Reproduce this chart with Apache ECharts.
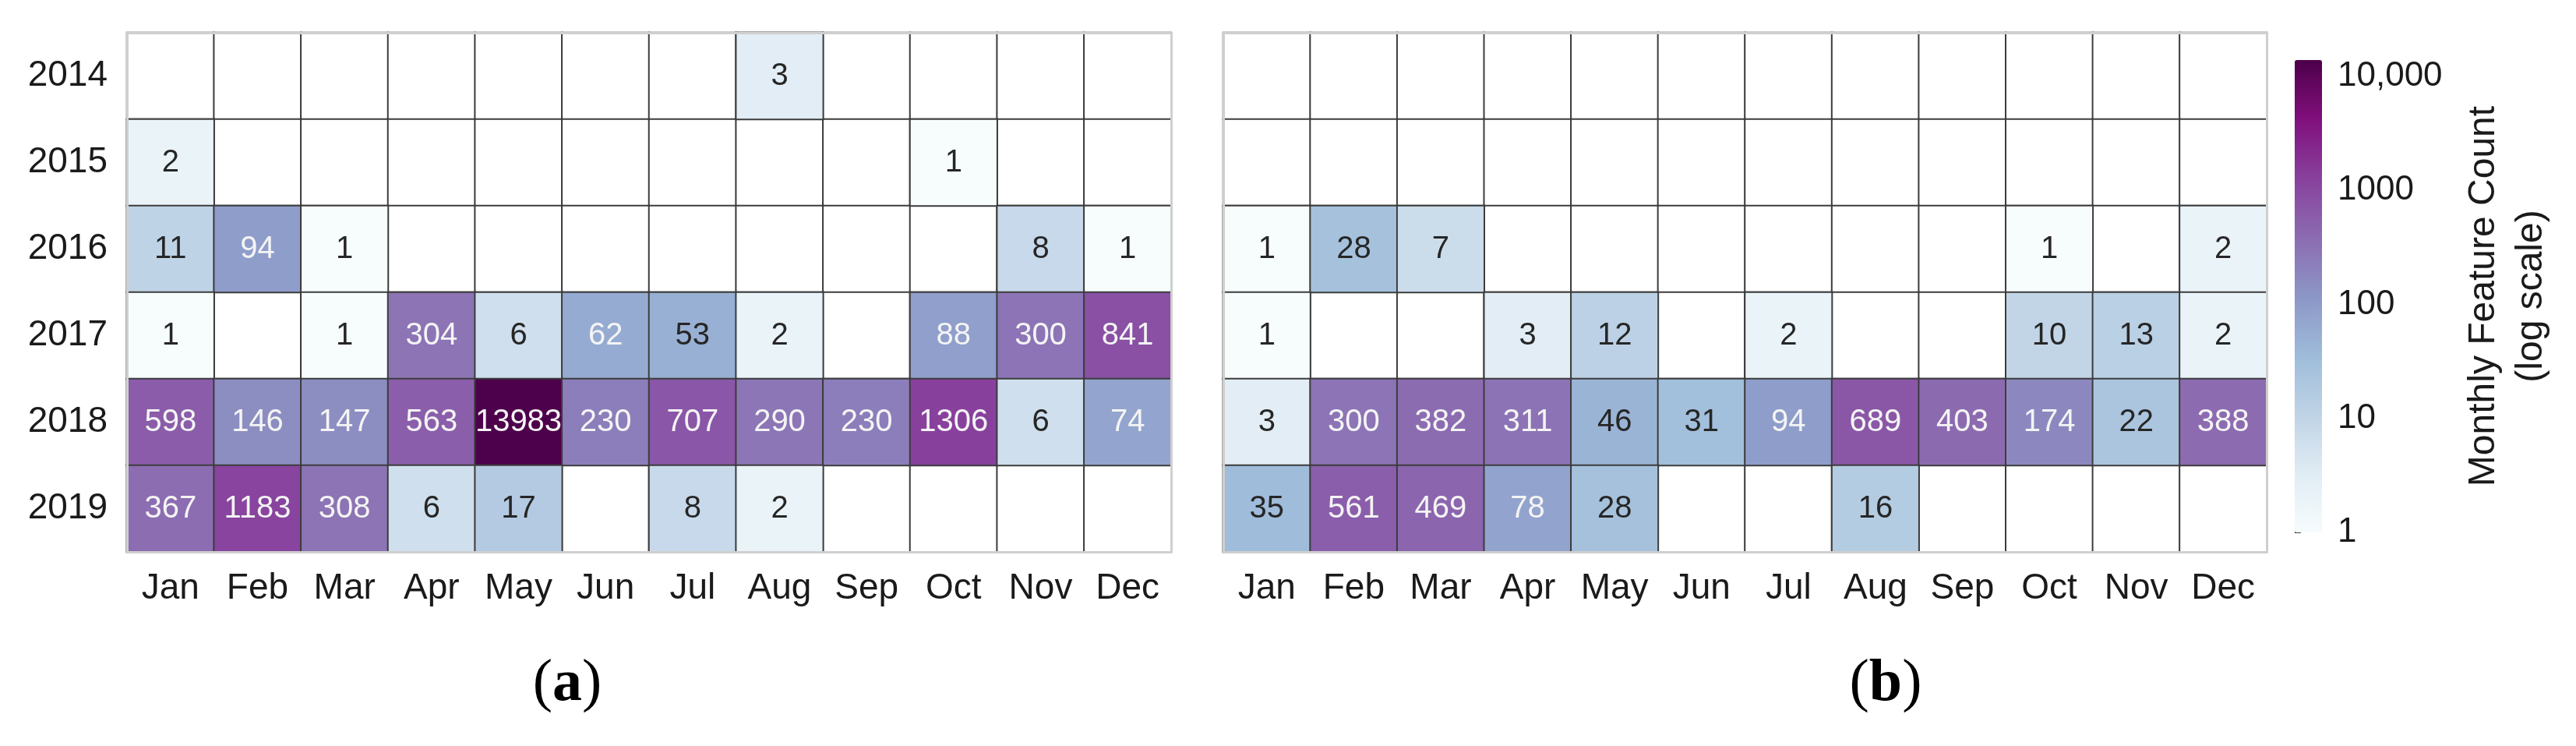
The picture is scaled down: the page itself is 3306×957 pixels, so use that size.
<!DOCTYPE html>
<html>
<head>
<meta charset="utf-8">
<title>Monthly Feature Count</title>
<script src="https://cdn.jsdelivr.net/npm/echarts@6/dist/echarts.min.js"></script>
<style>
  html, body { margin: 0; padding: 0; background: #fff; }
  #chart { width: 3306px; height: 957px; }
</style>
</head>
<body>
<div id="chart"></div>
<script>
const months = ['Jan', 'Feb', 'Mar', 'Apr', 'May', 'Jun', 'Jul', 'Aug', 'Sep', 'Oct', 'Nov', 'Dec']
const years = ['2014', '2015', '2016', '2017', '2018', '2019']

// (a) monthly feature counts, null = no features that month
const countsA = [
  [null, null, null, null, null, null, null, 3, null, null, null, null],
  [2, null, null, null, null, null, null, null, null, 1, null, null],
  [11, 94, 1, null, null, null, null, null, null, null, 8, 1],
  [1, null, 1, 304, 6, 62, 53, 2, null, 88, 300, 841],
  [598, 146, 147, 563, 13983, 230, 707, 290, 230, 1306, 6, 74],
  [367, 1183, 308, 6, 17, null, 8, 2, null, null, null, null]
]

// (b)
const countsB = [
  [null, null, null, null, null, null, null, null, null, null, null, null],
  [null, null, null, null, null, null, null, null, null, null, null, null],
  [1, 28, 7, null, null, null, null, null, null, 1, null, 2],
  [1, null, null, 3, 12, null, 2, null, null, 10, 13, 2],
  [3, 300, 382, 311, 46, 31, 94, 689, 403, 174, 22, 388],
  [35, 561, 469, 78, 28, null, null, 16, null, null, null, null]
]

const panelLabels = ['a', 'b']

const bupu = ['#f7fcfd', '#e0ecf4', '#bfd3e6', '#9ebcda', '#8c96c6', '#8c6bb1', '#88419d', '#810f7c', '#4d004b']
const font = '"Liberation Sans", Arial, sans-serif'
const serif = '"Liberation Serif", "Times New Roman", serif'
const lineDark = '#3c3c3c'
const frame = '#cfcfcf'

const allCounts = countsA.concat(countsB).flat().filter(v => v != null)
const logMax = Math.log10(Math.max(...allCounts))

function cells(counts) {
  const out = []
  counts.forEach((row, y) => {
    row.forEach((v, x) => {
      if (v == null) return
      out.push({
        value: [x, y, Math.log10(v), v],
        label: { color: v > 55 ? '#f4f4f4' : '#262626' }
      })
    })
  })
  return out
}

const blank = []
years.forEach((yr, y) => {
  months.forEach((m, x) => blank.push([x, y, 0]))
})

function xAxes(gi) {
  return [{
    type: 'category', gridIndex: gi, data: months, position: 'bottom', z: 5,
    axisLine: { lineStyle: { color: frame, width: 3 } },
    axisTick: { alignWithLabel: true, interval: 0, length: 14, lineStyle: { color: '#444', width: 2 } },
    axisLabel: { interval: 0, fontSize: 46, color: '#1a1a1a', margin: 24, fontFamily: font }
  }, {
    type: 'category', gridIndex: gi, data: months, position: 'top', z: 5,
    axisLine: { lineStyle: { color: frame, width: 3 } },
    axisTick: { show: false }, axisLabel: { show: false }
  }]
}

function yAxes(gi, showLabels) {
  return [{
    type: 'category', gridIndex: gi, data: years, inverse: true, position: 'left', z: 5,
    axisLine: { lineStyle: { color: frame, width: 3 } },
    axisTick: { alignWithLabel: true, interval: 0, length: 12, lineStyle: { color: '#444', width: 2 } },
    axisLabel: { show: showLabels, interval: 0, fontSize: 46, color: '#1a1a1a', margin: 25, fontFamily: font }
  }, {
    type: 'category', gridIndex: gi, data: years, inverse: true, position: 'right', z: 5,
    axisLine: { lineStyle: { color: frame, width: 3 } },
    axisTick: { show: false }, axisLabel: { show: false }
  }]
}

function blankSeries(ai) {
  return {
    type: 'heatmap', xAxisIndex: ai, yAxisIndex: ai, data: blank, silent: true,
    itemStyle: { color: '#fff', borderColor: lineDark, borderWidth: 2 },
    label: { show: false }, emphasis: { disabled: true }
  }
}

function dataSeries(ai, counts) {
  return {
    type: 'heatmap', xAxisIndex: ai, yAxisIndex: ai, data: cells(counts),
    itemStyle: { borderColor: lineDark, borderWidth: 2 },
    label: { show: true, fontSize: 40, fontFamily: font, formatter: p => p.value[3] },
    emphasis: { disabled: true }
  }
}

const chart = echarts.init(document.getElementById('chart'))

chart.setOption({
  backgroundColor: '#fff',
  animation: false,
  grid: [
    { left: 163, top: 42, width: 1340, height: 666 },
    { left: 1570, top: 42, width: 1339, height: 666 },
    { left: 2945, top: 98, width: 35, height: 585 }
  ],
  xAxis: [
    ...xAxes(0),
    ...xAxes(1),
    { type: 'value', gridIndex: 2, show: false }
  ],
  yAxis: [
    ...yAxes(0, true),
    ...yAxes(1, false),
    {
      type: 'log', logBase: 10, gridIndex: 2, position: 'right', min: 1, max: 10000,
      axisLine: { show: false }, splitLine: { show: false },
      axisTick: { length: 8, lineStyle: { color: '#444', width: 2 } },
      axisLabel: {
        fontSize: 44, color: '#1a1a1a', margin: 20, fontFamily: font,
        formatter: v => {
          const n = Math.round(v)
          return n >= 10000 ? String(n).replace(/\B(?=(\d{3})+(?!\d))/g, ',') : String(n)
        }
      }
    }
  ],
  visualMap: {
    type: 'continuous',
    min: 0,
    max: logMax,
    dimension: 2,
    seriesIndex: [1, 3],
    calculable: false,
    orient: 'vertical',
    left: 2945,
    top: 77,
    itemWidth: 35,
    itemHeight: 606,
    padding: 0,
    text: null,
    inRange: { color: bupu }
  },
  series: [
    blankSeries(0),
    dataSeries(0, countsA),
    blankSeries(2),
    dataSeries(2, countsB)
  ],
  graphic: [
    {
      type: 'text', x: 3218, y: 380, rotation: Math.PI / 2,
      style: {
        text: 'Monthly Feature Count\n(log scale)',
        fontSize: 48, lineHeight: 61, fontFamily: font, fill: '#1a1a1a',
        align: 'center', verticalAlign: 'middle'
      }
    },
    ...panelLabels.map((p, i) => ({
      type: 'text', x: [728, 2420][i], y: 878,
      style: {
        text: '{p|(}{b|' + p + '}{p|)}',
        align: 'center', verticalAlign: 'middle',
        rich: {
          p: { fontSize: 76, fontFamily: serif, fill: '#000' },
          b: { fontSize: 76, fontWeight: 'bold', fontFamily: serif, fill: '#000' }
        }
      }
    }))
  ]
})
</script>
</body>
</html>
